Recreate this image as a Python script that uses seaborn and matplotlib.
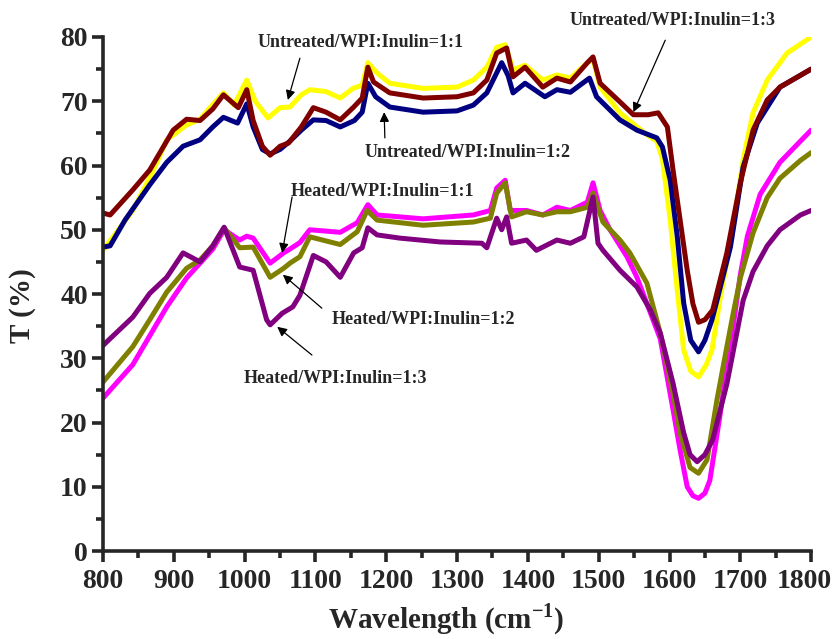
import numpy as np
import pandas as pd
import matplotlib
matplotlib.use("Agg")
import matplotlib.pyplot as plt
import matplotlib.transforms as mtransforms
import seaborn as sns
from matplotlib.ticker import MultipleLocator

# ---------------- data ----------------
u11_w = [800, 842, 870, 890, 918, 937, 955, 970, 985, 1003, 1015, 1033, 1050, 1064, 1080, 1092, 1115,
         1135, 1153, 1166, 1174, 1187, 1205, 1252, 1300, 1323, 1342, 1356, 1368, 1379, 1396, 1421, 1441,
         1460, 1484, 1492, 1502, 1530, 1554, 1573, 1582, 1590, 1601, 1611, 1620, 1630, 1641, 1652, 1660,
         1671, 1690, 1704, 1718, 1738, 1766, 1800]
u11_t = [46.8, 53, 59, 64, 66.3, 67.2, 69.5, 71.3, 69.4, 73.3, 70, 67.4, 69, 69.1, 71, 71.8, 71.5,
         70.5, 72, 72.5, 76, 74.4, 72.8, 72, 72.2, 73.3, 75.3, 78.4, 78.8, 74.9, 75.6, 73.3, 74.1,
         73.6, 76, 76.5, 72.2, 68.2, 66, 64.4, 63.8, 61, 51.5, 40.5, 31.3, 28, 27.1, 29, 31.3,
         39, 50.4, 60.9, 68.2, 73.3, 77.5, 80]

u12_w = [800, 810, 831, 866, 890, 913, 937, 955, 970, 990, 1003, 1012, 1025, 1036, 1050, 1064, 1080,
         1097, 1115, 1135, 1155, 1166, 1174, 1185, 1205, 1252, 1300, 1323, 1342, 1363, 1372, 1379, 1396,
         1424, 1441, 1460, 1487, 1497, 1530, 1554, 1582, 1590, 1601, 1611, 1620, 1630, 1641, 1650, 1660,
         1667, 1686, 1704, 1724, 1756, 1800]
u12_t = [47.3, 47.5, 51.5, 57, 60.5, 63, 64, 66, 67.5, 66.6, 69.6, 66, 62.5, 61.8, 62.5, 63.8, 65.5,
         67.1, 67, 66, 67, 68.3, 72.8, 70.7, 69.1, 68.3, 68.5, 69.4, 71.3, 76, 74, 71.3, 72.8,
         70.7, 71.8, 71.4, 73.6, 70.7, 67.1, 65.5, 64.3, 62.9, 57.7, 48.9, 38.6, 32.8, 31, 32.8, 36,
         39, 47.3, 59.8, 66.6, 72.2, 75]

u13_w = [800, 810, 842, 866, 899, 918, 937, 955, 970, 991, 1003, 1012, 1025, 1036, 1050, 1062, 1080,
         1097, 1115, 1135, 1154, 1166, 1174, 1182, 1205, 1252, 1300, 1323, 1342, 1356, 1370, 1379, 1396,
         1421, 1441, 1460, 1484, 1492, 1502, 1530, 1549, 1570, 1584, 1597, 1605, 1615, 1625, 1633, 1641,
         1650, 1661, 1681, 1700, 1718, 1738, 1756, 1800]
u13_t = [52.6, 52.3, 56.2, 59.3, 65.5, 67.2, 67, 68.8, 71, 69, 71.8, 67, 63, 61.6, 63, 63.5, 66,
         69, 68.3, 67.1, 69.1, 70.5, 75.3, 73, 71.3, 70.5, 70.7, 71.3, 73.3, 77.5, 78.3, 73.8, 75.3,
         72.2, 73.6, 73, 76, 76.9, 72.8, 69.9, 67.9, 67.9, 68.2, 66, 59.3, 51.5, 43.7, 38.5, 35.6,
         36, 37.5, 46.4, 57.3, 65.5, 70.2, 72.2, 75]

h11_w = [800, 842, 866, 890, 918, 937, 955, 971, 993, 1003, 1012, 1036, 1055, 1064, 1078, 1092, 1135,
         1159, 1174, 1187, 1252, 1323, 1347, 1356, 1368, 1375, 1398, 1421, 1441, 1460, 1484, 1492, 1502,
         1516, 1540, 1554, 1587, 1605, 1615, 1625, 1633, 1641, 1650, 1657, 1671, 1681, 1690, 1700, 1710,
         1728, 1756, 1785, 1800]
h11_t = [23.8, 29, 33.5, 38, 42.5, 44.8, 47, 50, 48.4, 49, 48.7, 44.8, 46.4, 47, 48, 50, 49.6,
         51.1, 53.9, 52.3, 51.7, 52.3, 53, 56.5, 57.7, 53, 53, 52.3, 53.5, 53, 54.3, 57.3, 53,
         50, 45.8, 42.6, 33, 22, 15.7, 10, 8.6, 8.2, 9, 11, 20.9, 28.6, 35, 43, 49,
         55.5, 60.5, 63.8, 65.5]

h12_w = [800, 842, 866, 890, 918, 937, 955, 971, 993, 1012, 1036, 1055, 1064, 1078, 1092, 1135, 1159,
         1173, 1187, 1252, 1323, 1347, 1356, 1368, 1377, 1398, 1421, 1441, 1460, 1484, 1492, 1506, 1530,
         1544, 1568, 1587, 1605, 1615, 1629, 1641, 1653, 1667, 1681, 1690, 1700, 1718, 1738, 1756, 1785,
         1800]
h12_t = [26.3, 31.8, 36, 40.3, 44, 45.3, 47.5, 50.3, 47.2, 47.3, 42.6, 44, 44.8, 45.8, 48.9, 47.7, 49.7,
         53, 51.5, 50.7, 51.2, 51.8, 55.7, 57.3, 52, 52.8, 52.3, 52.8, 52.8, 53.5, 55.7, 51.2, 48.4,
         46.4, 41.7, 33.9, 24.6, 18.4, 13, 12.1, 14.2, 23.5, 31.8, 37, 42.5, 49.5, 55, 58, 60.8,
         62]

h13_w = [800, 842, 866, 890, 913, 937, 955, 971, 993, 1012, 1031, 1036, 1053, 1068, 1078, 1097, 1115,
         1135, 1154, 1166, 1174, 1187, 1219, 1276, 1335, 1342, 1356, 1363, 1370, 1377, 1398, 1412, 1441,
         1460, 1479, 1492, 1499, 1506, 1530, 1554, 1573, 1587, 1605, 1620, 1629, 1639, 1650, 1661, 1681,
         1695, 1704, 1718, 1738, 1756, 1785, 1800]
h13_t = [32, 36.4, 40.1, 42.6, 46.4, 45, 47.5, 50.4, 44.2, 43.7, 36, 35.2, 37, 38, 39.8, 46, 45,
         42.6, 46.4, 47.2, 50.3, 49.2, 48.7, 48.1, 47.9, 47.2, 51.8, 50, 52, 47.9, 48.4, 46.8, 48.4,
         47.9, 48.9, 55.1, 47.9, 46.8, 43.7, 41.1, 37.5, 33.9, 26.1, 18.4, 15, 13.9, 15, 17.3, 26,
         33.9, 39, 43.5, 47.5, 50, 52.3, 53]

series_names = ["Untreated/WPI:Inulin=1:1", "Untreated/WPI:Inulin=1:2", "Untreated/WPI:Inulin=1:3",
                "Heated/WPI:Inulin=1:1", "Heated/WPI:Inulin=1:2", "Heated/WPI:Inulin=1:3"]
series_colors = ["#FFFF00", "#000080", "#800000", "#FF00FF", "#808000", "#800080"]

x_ticks = [800, 900, 1000, 1100, 1200, 1300, 1400, 1500, 1600, 1700, 1800]
y_ticks = [0, 10, 20, 30, 40, 50, 60, 70, 80]

frames = []
for name, w, t in zip(series_names,
                      [u11_w, u12_w, u13_w, h11_w, h12_w, h13_w],
                      [u11_t, u12_t, u13_t, h11_t, h12_t, h13_t]):
    frames.append(pd.DataFrame({"Wavelength": w, "T": t, "Sample": name}))
df = pd.concat(frames, ignore_index=True)

# ---------------- figure ----------------
sns.set_style("ticks")
plt.rcParams["font.family"] = ["Liberation Serif", "DejaVu Serif"]
plt.rcParams["font.weight"] = "bold"
plt.rcParams["mathtext.fontset"] = "custom"
plt.rcParams["mathtext.rm"] = "Liberation Serif:bold"
plt.rcParams["mathtext.bf"] = "Liberation Serif:bold"

fig = plt.figure(figsize=(8.35, 6.39), dpi=100)
ax = fig.add_axes([0.1234, 0.1377, 0.848, 0.8044])

sns.lineplot(data=df, x="Wavelength", y="T", hue="Sample", hue_order=series_names,
             palette=dict(zip(series_names, series_colors)), linewidth=3.6,
             estimator=None, legend=False, ax=ax,
             solid_joinstyle="round", solid_capstyle="round")

ax.set_xlim(800, 1800)
ax.set_ylim(0, 80)
ax.set_xticks(x_ticks)
ax.set_yticks(y_ticks)
ax.xaxis.set_minor_locator(MultipleLocator(50))
ax.yaxis.set_minor_locator(MultipleLocator(5))
ax.tick_params(axis="both", which="major", direction="out", length=8, width=2.6,
               labelsize=20)
ax.tick_params(axis="x", which="major", pad=5)
ax.tick_params(axis="y", which="major", pad=3)
ax.tick_params(axis="both", which="minor", direction="out", length=5, width=2.6)
for lab in ax.get_xticklabels() + ax.get_yticklabels():
    lab.set_fontweight("bold")
# keep the last x tick label inside the canvas
last = ax.get_xticklabels()[-1]
last.set_transform(last.get_transform() +
                   mtransforms.ScaledTranslation(-5 / 72, 0, fig.dpi_scale_trans))
for s in ["top", "right"]:
    ax.spines[s].set_visible(False)
for s in ["left", "bottom"]:
    ax.spines[s].set_linewidth(2.6)

ax.set_xlabel(r"Wavelength (cm$^{\mathbf{-1}}$)", fontsize=21, fontweight="bold")
ax.xaxis.set_label_coords(0.484, -0.098)
ax.set_ylabel("")
fig.text(23 / 835, 1 - 306 / 639, "T (%)", rotation=90, ha="center", va="center",
         fontsize=21, fontweight="bold")

# ---------------- annotations ----------------
ann = [
    ("Untreated/WPI:Inulin=1:1", (1164, 79.2), (1078, 76.7), (1061, 70.2)),
    ("Untreated/WPI:Inulin=1:3", (1604, 82.6), (1594, 79.5), (1549, 68.3)),
    ("Untreated/WPI:Inulin=1:2", (1315, 62.1), (1198, 64.3), (1197, 68.3)),
    ("Heated/WPI:Inulin=1:1", (1194, 55.9), (1067, 55.1), (1053, 46.4)),
    ("Heated/WPI:Inulin=1:2", (1252, 36.0), (1109, 37.8), (1054, 43.0)),
    ("Heated/WPI:Inulin=1:3", (1128, 26.8), (1095, 30.5), (1046, 34.9)),
]
for text, tpos, tail, tip in ann:
    ax.text(tpos[0], tpos[1], text, ha="center", va="center", fontsize=13,
            fontweight="bold", clip_on=False)
    ax.annotate("", xy=tip, xytext=tail,
                arrowprops=dict(arrowstyle="-|>", color="black", lw=0.9,
                                mutation_scale=14, shrinkA=0, shrinkB=0),
                annotation_clip=False)

fig.savefig("out.png", dpi=100)
